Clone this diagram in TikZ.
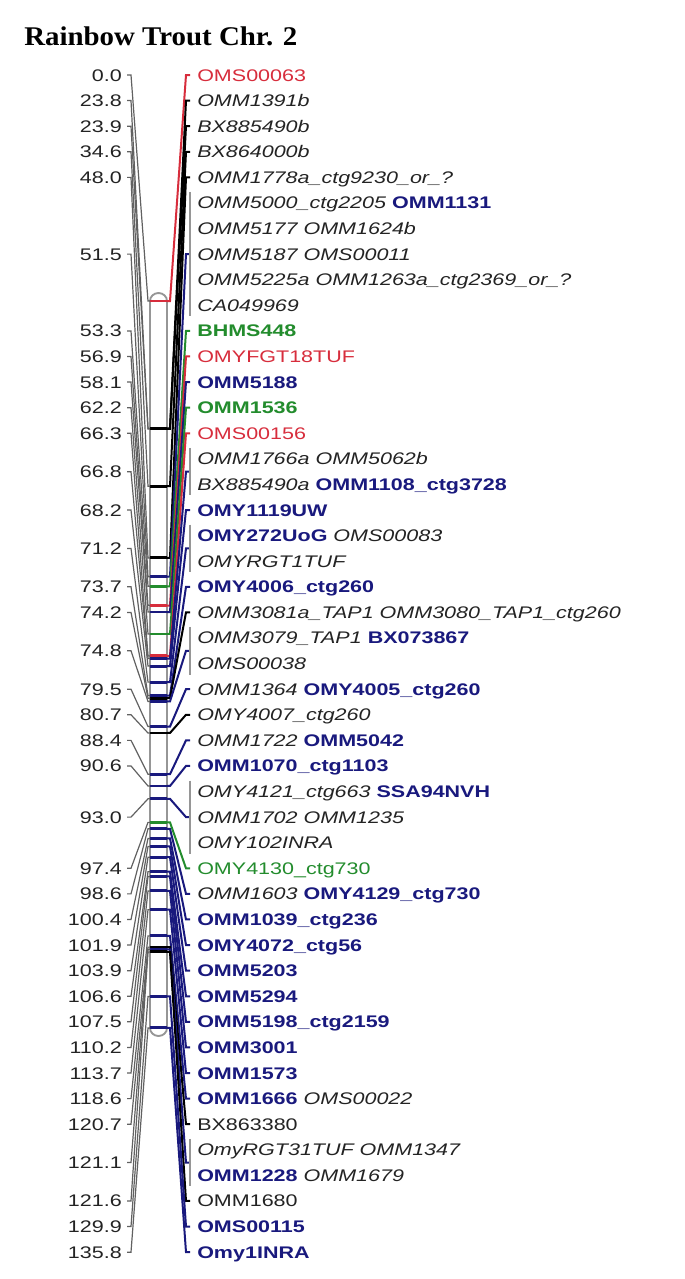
\documentclass[tikz,border=0pt]{standalone}
\usepackage{fontspec}
\usepackage{tikz}
\usetikzlibrary{calc}
\newfontfamily\mapfont[FakeStretch=1.28]{Liberation Sans}
\newfontfamily\headfont[FakeStretch=1.07]{Liberation Serif}
\definecolor{mapred}{RGB}{215,45,60}
\definecolor{mapblue}{RGB}{25,25,125}
\definecolor{mapgreen}{RGB}{35,140,45}
\definecolor{mapgray}{RGB}{150,150,150}
\definecolor{textgray}{RGB}{35,35,35}
\newcommand{\mkit}[1]{\textit{#1}}
\newcommand{\mkbl}[1]{\textcolor{mapblue}{\textbf{#1}}}
\newcommand{\mkrd}[1]{\textcolor{mapred}{#1}}
\newcommand{\mkgr}[1]{\textcolor{mapgreen}{\textbf{#1}}}
\newcommand{\mkgn}[1]{\textcolor{mapgreen}{#1}}
\begin{document}
\begin{tikzpicture}[x=0.75pt, y=-0.75pt,
    poslbl/.style={anchor=base east, inner sep=0pt, text=textgray, font=\mapfont\fontsize{12.6}{14}\selectfont},
    loclbl/.style={anchor=base west, inner sep=0pt, text=textgray, font=\mapfont\fontsize{12.6}{14}\selectfont},
    chrom/.style={draw=mapgray, line width=1.4pt, fill=white},
    band/.style={draw=#1, line width=2.2pt},
    leftlink/.style={draw=mapgray!65!black, line width=0.9pt},
    rightlink/.style={draw=#1, line width=1.5pt},
    bracket/.style={draw=mapgray, line width=1.4pt},
]
    \useasboundingbox (0,0) rectangle (685,1279);
    \node[anchor=base west, inner sep=0pt, font=\headfont\bfseries\fontsize{20.25}{24}\selectfont] (title) at (24,45) {Rainbow Trout Chr. 2};

    % chromosome bar
    \draw[chrom] (150,1028) -- (150,301) arc[start angle=180, end angle=360, x radius=8.5, y radius=8]
        -- (167,1028) arc[start angle=0, end angle=180, x radius=8.5, y radius=8] -- cycle;

    % loci: position / first row / rows / colour
    \foreach \cm/\r/\n/\c [count=\i] in {0.0/1/1/mapred, 23.8/2/1/black, 23.9/3/1/black, 34.6/4/1/black,
        48.0/5/1/black, 51.5/6/5/mapblue, 53.3/11/1/mapgreen, 56.9/12/1/mapred, 58.1/13/1/mapblue,
        62.2/14/1/mapgreen, 66.3/15/1/mapred, 66.8/16/2/mapblue, 68.2/18/1/mapblue, 71.2/19/2/mapblue,
        73.7/21/1/mapblue, 74.2/22/1/black, 74.8/23/2/mapblue, 79.5/25/1/mapblue, 80.7/26/1/black,
        88.4/27/1/mapblue, 90.6/28/1/mapblue, 93.0/29/3/mapblue, 97.4/32/1/mapgreen, 98.6/33/1/mapblue,
        100.4/34/1/mapblue, 101.9/35/1/mapblue, 103.9/36/1/mapblue, 106.6/37/1/mapblue, 107.5/38/1/mapblue,
        110.2/39/1/mapblue, 113.7/40/1/mapblue, 118.6/41/1/mapblue, 120.7/42/1/black, 121.1/43/2/mapblue,
        121.6/45/1/black, 129.9/46/1/mapblue, 135.8/47/1/mapblue} {
        \pgfmathsetmacro\yb{301+5.353*\cm}
        \pgfmathsetmacro\yl{75+(\r-1+(\n-1)/2)*25.59}
        \coordinate (bl\i) at (150,\yb);
        \coordinate (br\i) at (167,\yb);
        \coordinate (lt\i) at (127,\yl);
        \coordinate (rt\i) at (190,\yl);
        \node[poslbl] (pos\i) at (122,\yl+6) {\cm};
        \draw[band=\c] (bl\i) -- (br\i);
        \draw[leftlink] (lt\i) -- ($(lt\i)+(4,0)$) -- ($(bl\i)+(-2,0)$) -- (bl\i);
        \draw[rightlink=\c] (br\i) -- ($(br\i)+(3,0)$) -- ($(rt\i)+(-4,0)$) -- (rt\i);
        \ifnum\n>1
            \draw[bracket] ($(rt\i)+(0,{-(\n-1)/2*25.59-11})$) -- ($(rt\i)+(0,{(\n-1)/2*25.59+11})$);
        \fi
    }

    % marker names
    \foreach \t [count=\r] in {\mkrd{OMS00063}, \mkit{OMM1391b}, \mkit{BX885490b}, \mkit{BX864000b},
        \mkit{OMM1778a\_ctg9230\_or\_?}, \mkit{OMM5000\_ctg2205} \mkbl{OMM1131}, \mkit{OMM5177 OMM1624b},
        \mkit{OMM5187 OMS00011}, \mkit{OMM5225a OMM1263a\_ctg2369\_or\_?}, \mkit{CA049969},
        \mkgr{BHMS448}, \mkrd{OMYFGT18TUF}, \mkbl{OMM5188}, \mkgr{OMM1536}, \mkrd{OMS00156},
        \mkit{OMM1766a OMM5062b}, \mkit{BX885490a} \mkbl{OMM1108\_ctg3728}, \mkbl{OMY1119UW},
        \mkbl{OMY272UoG} \mkit{OMS00083}, \mkit{OMYRGT1TUF}, \mkbl{OMY4006\_ctg260},
        \mkit{OMM3081a\_TAP1 OMM3080\_TAP1\_ctg260}, \mkit{OMM3079\_TAP1} \mkbl{BX073867},
        \mkit{OMS00038}, \mkit{OMM1364} \mkbl{OMY4005\_ctg260}, \mkit{OMY4007\_ctg260},
        \mkit{OMM1722} \mkbl{OMM5042}, \mkbl{OMM1070\_ctg1103}, \mkit{OMY4121\_ctg663} \mkbl{SSA94NVH},
        \mkit{OMM1702 OMM1235}, \mkit{OMY102INRA}, \mkgn{OMY4130\_ctg730},
        \mkit{OMM1603} \mkbl{OMY4129\_ctg730}, \mkbl{OMM1039\_ctg236}, \mkbl{OMY4072\_ctg56},
        \mkbl{OMM5203}, \mkbl{OMM5294}, \mkbl{OMM5198\_ctg2159}, \mkbl{OMM3001}, \mkbl{OMM1573},
        \mkbl{OMM1666} \mkit{OMS00022}, BX863380, \mkit{OmyRGT31TUF OMM1347},
        \mkbl{OMM1228} \mkit{OMM1679}, OMM1680, \mkbl{OMS00115}, \mkbl{Omy1INRA}} {
        \node[loclbl] (loc\r) at (197,{75+(\r-1)*25.59+6}) {\t};
    }
\end{tikzpicture}
\end{document}
